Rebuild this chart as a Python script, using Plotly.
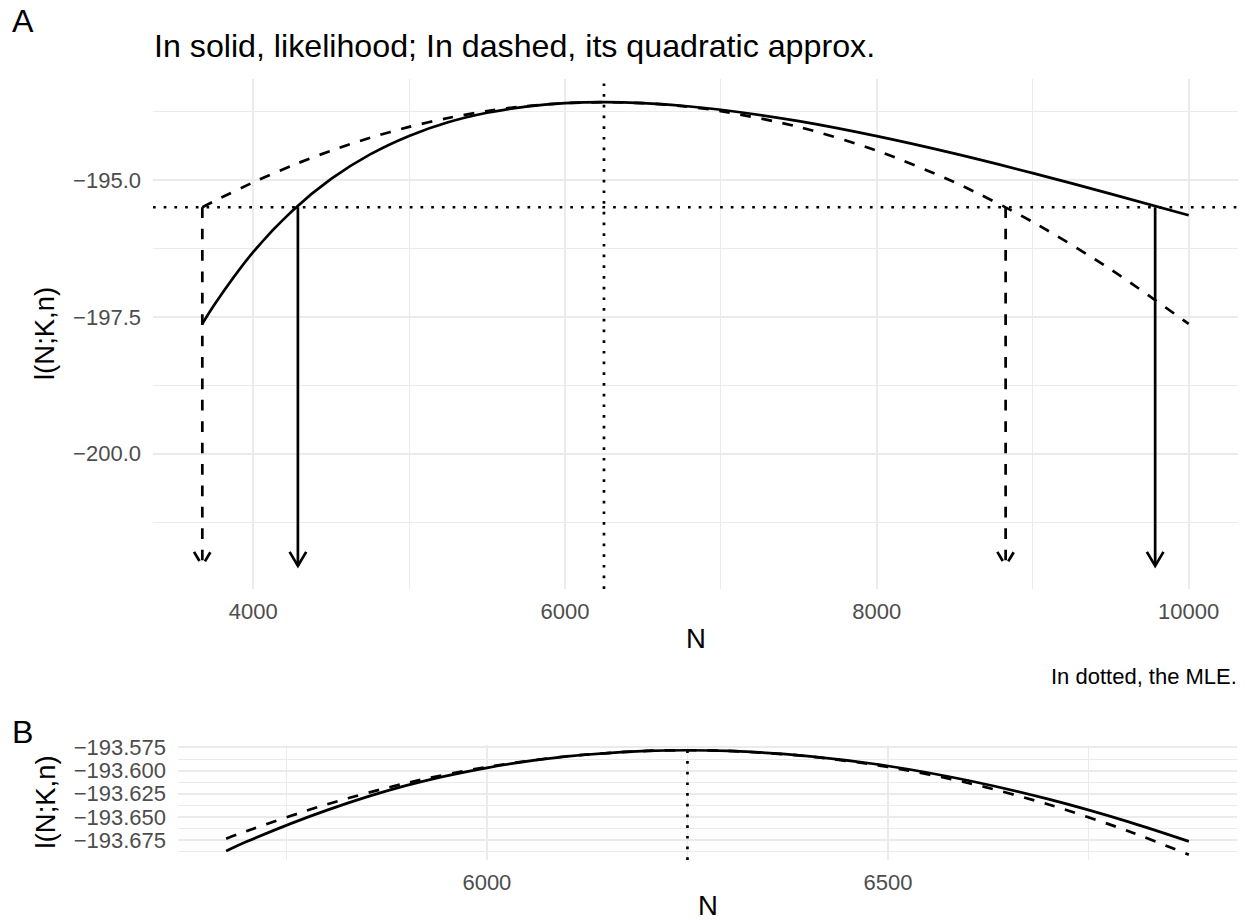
import plotly.graph_objects as go

# ---------------- data ----------------
N_A = [3674, 3750, 4000, 4250, 4500, 4750, 5000, 5250, 5500, 5750, 6000, 6250,
       6500, 6750, 7000, 7500, 8000, 8500, 9000, 9500, 10000]
LOGLIK_A = [-197.628, -197.283, -196.317, -195.565, -194.981, -194.533, -194.195,
            -193.946, -193.772, -193.659, -193.597, -193.578, -193.595, -193.643,
            -193.716, -193.925, -194.199, -194.519, -194.874, -195.253, -195.645]
QUAD_A = [-195.498, -195.386, -195.043, -194.735, -194.464, -194.229, -194.030,
          -193.867, -193.741, -193.650, -193.596, -193.578, -193.596, -193.650,
          -193.741, -194.030, -194.464, -195.043, -195.766, -196.634, -197.630]

N_B = [5675, 5700, 5800, 5900, 6000, 6100, 6200, 6250, 6300, 6400, 6500, 6600,
       6700, 6800, 6875]
LOGLIK_B = [-193.687, -193.677, -193.643, -193.616, -193.597, -193.5847, -193.5787,
            -193.578, -193.5787, -193.5843, -193.595, -193.6107, -193.6309,
            -193.6554, -193.6765]
QUAD_B = [-193.6737, -193.6655, -193.6366, -193.6134, -193.5961, -193.5845,
          -193.5787, -193.578, -193.5787, -193.5845, -193.5961, -193.6134,
          -193.6366, -193.6655, -193.691]

N_MLE = 6250
LOGLIK_MAX = -193.578
CUTOFF = -195.498
CI_LIKELIHOOD = [4287, 9785]
CI_QUADRATIC = [3674, 8826]
ARROW_END = -202.05

A_X_TICKS = [4000, 6000, 8000, 10000]
A_X_LABELS = ["4000", "6000", "8000", "10000"]
A_Y_TICKS = [-200.0, -197.5, -195.0]
A_Y_LABELS = ["\u2212200.0", "\u2212197.5", "\u2212195.0"]
B_X_TICKS = [6000, 6500]
B_X_LABELS = ["6000", "6500"]
B_Y_TICKS = [-193.675, -193.650, -193.625, -193.600, -193.575]
B_Y_LABELS = ["\u2212193.675", "\u2212193.650", "\u2212193.625", "\u2212193.600", "\u2212193.575"]

TITLE = "In solid, likelihood; In dashed, its quadratic approx."
CAPTION = "In dotted, the MLE."
Y_TITLE = "l(N;K,n)"
X_TITLE = "N"

# ---------------- layout geometry ----------------
W, H = 1247, 923
PA = dict(l=153, r=1238, t=79, b=589)
PB = dict(l=178, r=1237, t=745, b=860)
FONT = "Liberation Sans, Arial, Helvetica, sans-serif"
LW = 2.7
DASH = "10.7px,10.7px"
DOT = "2.7px,8px"
GRID = "#EBEBEB"
S_TICK, S_AXT, S_TITLE = 22, 27.5, 32.2


def expand(lo, hi, f=0.05):
    d = (hi - lo) * f
    return [lo - d, hi + d]


def dom_x(p):
    return [p["l"] / W, p["r"] / W]


def dom_y(p):
    return [1 - p["b"] / H, 1 - p["t"] / H]


a_xr = expand(min(N_A), max(N_A))
a_yr = expand(min(min(LOGLIK_A), min(QUAD_A), ARROW_END), max(max(LOGLIK_A), max(QUAD_A)))
b_xr = expand(min(N_B), max(N_B))
b_yr = expand(min(min(LOGLIK_B), min(QUAD_B)), max(max(LOGLIK_B), max(QUAD_B)))

fig = go.Figure()


def line(x, y, xa, ya, dash=None):
    fig.add_trace(go.Scatter(
        x=x, y=y, xaxis=xa, yaxis=ya, mode="lines",
        line=dict(color="black", width=LW, dash=dash or "solid", shape="spline", smoothing=0.8),
        hoverinfo="skip", showlegend=False))


# panel A curves
line(N_A, LOGLIK_A, "x", "y")
line(N_A, QUAD_A, "x", "y", DASH)

# arrows (shaft + open head)
hx = 8.3 * (a_xr[1] - a_xr[0]) / (PA["r"] - PA["l"])
hy = 14.0 * (a_yr[1] - a_yr[0]) / (PA["b"] - PA["t"])
for ci, dash in ((CI_LIKELIHOOD, None), (CI_QUADRATIC, DASH)):
    for xv in ci:
        fig.add_trace(go.Scatter(
            x=[xv, xv], y=[CUTOFF, ARROW_END], xaxis="x", yaxis="y", mode="lines",
            line=dict(color="black", width=LW, dash=dash or "solid"),
            hoverinfo="skip", showlegend=False))
        fig.add_trace(go.Scatter(
            x=[xv - hx, xv, xv + hx], y=[ARROW_END + hy, ARROW_END, ARROW_END + hy],
            xaxis="x", yaxis="y", mode="lines",
            line=dict(color="black", width=LW, dash=dash or "solid"),
            hoverinfo="skip", showlegend=False))

# panel B curves
line(N_B, LOGLIK_B, "x2", "y2")
line(N_B, QUAD_B, "x2", "y2", DASH)

# dotted reference lines
dot = dict(color="black", width=LW, dash=DOT)
fig.add_shape(type="line", xref="x domain", yref="y", x0=0, x1=1, y0=CUTOFF, y1=CUTOFF, line=dot)
fig.add_shape(type="line", xref="x", yref="y domain", x0=N_MLE, x1=N_MLE, y0=0, y1=1, line=dot)
fig.add_shape(type="line", xref="x2", yref="y2 domain", x0=N_MLE, x1=N_MLE, y0=0, y1=1, line=dot)

tickfont = dict(family=FONT, size=S_TICK, color="#4D4D4D")


def axis(dom, rng, tv, tt, minor_vals, anchor, standoff):
    return dict(domain=dom, range=rng, tickmode="array", tickvals=tv, ticktext=tt,
                showgrid=True, gridcolor=GRID, gridwidth=2.2, zeroline=False,
                showline=False, ticks="", tickfont=tickfont, anchor=anchor,
                ticklabelstandoff=standoff, fixedrange=True, automargin=False,
                minor=dict(tickvals=minor_vals, showgrid=True, gridcolor=GRID,
                           gridwidth=1.2, ticks=""))


fig.update_layout(
    width=W, height=H, margin=dict(l=0, r=0, t=0, b=0), autosize=False,
    paper_bgcolor="white", plot_bgcolor="white", showlegend=False,
    hovermode=False,
    font=dict(family=FONT, color="black"),
    xaxis=axis(dom_x(PA), a_xr, A_X_TICKS, A_X_LABELS, [5000, 7000, 9000], "y", 7),
    yaxis=axis(dom_y(PA), a_yr, A_Y_TICKS, A_Y_LABELS,
               [-201.25, -198.75, -196.25, -193.75], "x", 11),
    xaxis2=axis(dom_x(PB), b_xr, B_X_TICKS, B_X_LABELS, [5750, 6250, 6750], "y2", 7),
    yaxis2=axis(dom_y(PB), b_yr, B_Y_TICKS, B_Y_LABELS,
                [-193.6875, -193.6625, -193.6375, -193.6125, -193.5875, -193.5625], "x2", 11),
)


def text(s, x, y, size, xanchor="center", angle=0, color="black"):
    fig.add_annotation(text=s, x=x / W, y=1 - y / H, xref="paper", yref="paper",
                       xanchor=xanchor, yanchor="middle", showarrow=False,
                       textangle=angle, font=dict(family=FONT, size=size, color=color))


text("A", 10, 21, S_TITLE, "left")
text("B", 10, 732, S_TITLE, "left")
text(TITLE, PA["l"] - 1, 46, S_TITLE, "left")
text(CAPTION, PA["r"] + 1, 676, S_TICK, "right")
text(X_TITLE, (PA["l"] + PA["r"]) / 2, 638, S_AXT)
text(X_TITLE, (PB["l"] + PB["r"]) / 2, 905, S_AXT)
text(Y_TITLE, 45, (PA["t"] + PA["b"]) / 2, S_AXT, angle=-90)
text(Y_TITLE, 45, (PB["t"] + PB["b"]) / 2, S_AXT, angle=-90)

fig.write_html("out.html", config={"displayModeBar": False})
